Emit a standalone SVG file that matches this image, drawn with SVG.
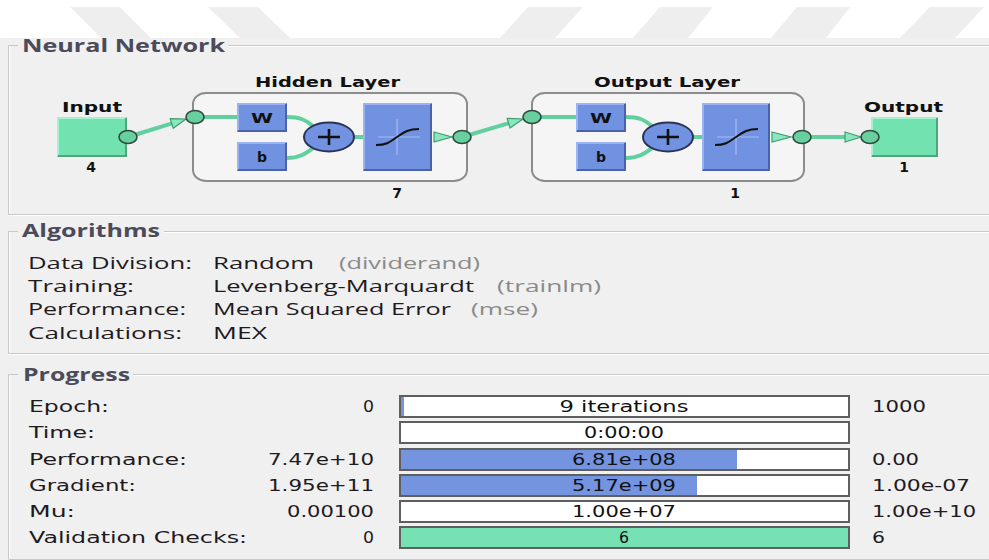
<svg xmlns="http://www.w3.org/2000/svg" width="989" height="560" viewBox="0 0 989 560">
<defs>
<style>
.gb{fill:none;stroke:#c6c9cc;stroke-width:1}
.gbw{fill:none;stroke:#ffffff;stroke-width:1}
.title{font-family:"Open Sans","Noto Sans",sans-serif;font-weight:700;font-size:17px;fill:#4b4b5a}
.row{font-family:"Open Sans","Noto Sans",sans-serif;font-size:17px;fill:#1e1a1e}
.dim{fill:#8a8a8a}
.prow{font-family:"DejaVu Sans",sans-serif;font-size:16px;fill:#1e1a1e}
.bartx{font-family:"DejaVu Sans",sans-serif;font-size:15px;fill:#111}
.nl{font-family:"DejaVu Sans",sans-serif;font-weight:700;font-size:14px;fill:#111}
.layer{fill:#f5f5f5;stroke:#8c8c8c;stroke-width:2}
.blue{fill:#7191e1}
.hi{fill:none;stroke:#9cb3f2;stroke-width:2}
.lo{fill:none;stroke:#4a63a8;stroke-width:2}
.green{fill:#73e2b1}
.ghi{fill:none;stroke:#a4f2cf;stroke-width:2}
.glo{fill:none;stroke:#4ea67e;stroke-width:2}
.wire{fill:none;stroke:#62cf9e;stroke-width:4}
.arr{fill:#8ae6bd;stroke:#3f9c74;stroke-width:1.2}
.dot{fill:#68cf9f;stroke:#2d4a3d;stroke-width:1.6}
.sum{fill:#7191e1;stroke:#2a3356;stroke-width:2}
.plus{stroke:#111;stroke-width:2.6;fill:none}
.cross{stroke:#a8bcf3;stroke-width:1.2;fill:none}
.sig{stroke:#111;stroke-width:2;fill:none}
.bar{fill:#ffffff;stroke:#5f5f5f;stroke-width:2}
</style>
</defs>
<rect x="0" y="0" width="989" height="560" fill="#ffffff"/>
<g fill="#eeeeee">
<polygon points="70,7 120,7 151,38 101,38"/>
<polygon points="208,7 258,7 290,38 240,38"/>
<polygon points="528,7 583,7 555,38 500,38"/>
<polygon points="660,7 713,7 688,38 633,38"/>
<polygon points="797,7 850,7 826,38 771,38"/>
<polygon points="930,7 984,7 955,38 900,38"/>
</g>
<rect x="0" y="38" width="989" height="522" fill="#f0f0f0"/>

<g id="groupboxes">
<path class="gb" d="M18,45.5 H8.5 V214.5 H989 M228,45.5 H989"/>
<path class="gbw" d="M9.5,46.5 V213.5 M228,46.5 H989 M8,215.5 H989"/>
<path class="gb" d="M18,231.5 H8.5 V353.5 H989 M164,231.5 H989"/>
<path class="gbw" d="M9.5,232.5 V352.5 M164,232.5 H989 M8,354.5 H989"/>
<path class="gb" d="M18,374.5 H8.5 V559.5 H989 M133,374.5 H989"/>
<path class="gbw" d="M9.5,375.5 V558.5 M133,375.5 H989"/>
<text class="title" x="22" y="52" textLength="203" lengthAdjust="spacingAndGlyphs">Neural Network</text>
<text class="title" x="22" y="237" textLength="138" lengthAdjust="spacingAndGlyphs">Algorithms</text>
<text class="title" x="23" y="381" textLength="107" lengthAdjust="spacingAndGlyphs">Progress</text>
</g>

<g id="input">
<text class="nl" x="62" y="112" textLength="60" lengthAdjust="spacingAndGlyphs">Input</text>
<rect class="green" x="57" y="117" width="70" height="40"/>
<path class="ghi" d="M58,156 V118 H126"/>
<path class="glo" d="M58,156 H126 V118"/>
<text class="nl" x="91" y="172" text-anchor="middle">4</text>
</g>

<g id="hidden-layer">
<text class="nl" x="255" y="87" textLength="145" lengthAdjust="spacingAndGlyphs">Hidden Layer</text>
<rect class="layer" x="193" y="93" width="274" height="88" rx="13" ry="11"/>
<text class="nl" x="397" y="198" text-anchor="middle">7</text>
</g>

<g id="output-layer">
<text class="nl" x="594" y="87" textLength="146" lengthAdjust="spacingAndGlyphs">Output Layer</text>
<rect class="layer" x="532" y="93" width="272" height="88" rx="13" ry="11"/>
<text class="nl" x="735" y="198" text-anchor="middle">1</text>
</g>

<g id="output">
<text class="nl" x="864" y="112" textLength="79" lengthAdjust="spacingAndGlyphs">Output</text>
<rect class="green" x="871" y="117" width="67" height="40"/>
<path class="ghi" d="M872,156 V118 H937"/>
<path class="glo" d="M872,156 H937 V118"/>
<text class="nl" x="904" y="172" text-anchor="middle">1</text>
</g>

<g id="connectors">
<line class="wire" x1="128" y1="137" x2="172" y2="123.4"/>
<polygon class="arr" points="173.2,128.2 186,119 170.2,118.6"/>
<line class="wire" x1="195" y1="117" x2="237" y2="117"/>
<path class="wire" d="M287,117 C300,117 306,120 313,126"/>
<path class="wire" d="M287,158 C300,158 306,153 313,148"/>
<line class="wire" x1="353" y1="137" x2="363" y2="137"/>
<polygon class="arr" points="434,132 452,137 434,142"/>
<line class="wire" x1="462" y1="137" x2="509" y2="123.2"/>
<polygon class="arr" points="510,128 523,119 507.2,118.4"/>
<line class="wire" x1="532" y1="117" x2="576" y2="117"/>
<path class="wire" d="M626,117 C639,117 645,120 652,126"/>
<path class="wire" d="M626,158 C639,158 645,153 652,148"/>
<line class="wire" x1="692" y1="137" x2="702" y2="137"/>
<polygon class="arr" points="772,132 791,137 772,142"/>
<line class="wire" x1="802" y1="137" x2="846" y2="137"/>
<polygon class="arr" points="845,132 861,137 845,142"/>
</g>

<g id="ports">
<ellipse class="dot" cx="128" cy="137" rx="9" ry="6.5"/>
<ellipse class="dot" cx="195" cy="117" rx="9" ry="6.5"/>
<ellipse class="dot" cx="462" cy="137" rx="9" ry="6.5"/>
<ellipse class="dot" cx="532" cy="117" rx="9" ry="6.5"/>
<ellipse class="dot" cx="802" cy="137" rx="9" ry="6.5"/>
<ellipse class="dot" cx="870" cy="137" rx="9" ry="6.5"/>
</g>

<g id="hidden-w">
<rect class="blue" x="237" y="103" width="50" height="29"/>
<path class="hi" d="M238,131 V104 H286"/><path class="lo" d="M238,131 H286 V104"/>
<text class="nl" x="262" y="123" text-anchor="middle" font-size="13" textLength="22" lengthAdjust="spacingAndGlyphs">W</text>
</g>
<g id="hidden-b">
<rect class="blue" x="237" y="142" width="50" height="29"/>
<path class="hi" d="M238,170 V143 H286"/><path class="lo" d="M238,170 H286 V143"/>
<text class="nl" x="262" y="162" text-anchor="middle" font-size="13">b</text>
</g>
<g id="hidden-sum">
<ellipse class="sum" cx="329" cy="137" rx="25" ry="14.5"/>
<path class="plus" d="M318,137 H340 M329,129 V145"/>
</g>
<g id="hidden-transfer">
<rect class="blue" x="363" y="103" width="69" height="68"/>
<path class="hi" d="M364,170 V104 H431"/><path class="lo" d="M364,170 H431 V104"/>
<path class="cross" d="M378,137 H420 M397,119 V155"/>
<path class="sig" d="M376,145 C388,145 391,141 397,137 C403,133 407,129 419,129"/>
</g>

<g id="output-w">
<rect class="blue" x="576" y="103" width="50" height="29"/>
<path class="hi" d="M577,131 V104 H625"/><path class="lo" d="M577,131 H625 V104"/>
<text class="nl" x="601" y="123" text-anchor="middle" font-size="13" textLength="22" lengthAdjust="spacingAndGlyphs">W</text>
</g>
<g id="output-b">
<rect class="blue" x="576" y="142" width="50" height="29"/>
<path class="hi" d="M577,170 V143 H625"/><path class="lo" d="M577,170 H625 V143"/>
<text class="nl" x="601" y="162" text-anchor="middle" font-size="13">b</text>
</g>
<g id="output-sum">
<ellipse class="sum" cx="668" cy="137" rx="25" ry="14.5"/>
<path class="plus" d="M657,137 H679 M668,129 V145"/>
</g>
<g id="output-transfer">
<rect class="blue" x="702" y="103" width="68" height="68"/>
<path class="hi" d="M703,170 V104 H769"/><path class="lo" d="M703,170 H769 V104"/>
<path class="cross" d="M717,137 H759 M736,119 V155"/>
<path class="sig" d="M715,145 C727,145 730,141 736,137 C742,133 746,129 758,129"/>
</g>

<g id="algorithms">
<text class="row" x="28" y="269" textLength="164" lengthAdjust="spacingAndGlyphs">Data Division:</text>
<text class="row" x="213" y="269" textLength="101" lengthAdjust="spacingAndGlyphs">Random</text>
<text class="row dim" x="339" y="269" textLength="141" lengthAdjust="spacingAndGlyphs">(dividerand)</text>
<text class="row" x="28" y="292" textLength="106" lengthAdjust="spacingAndGlyphs">Training:</text>
<text class="row" x="213" y="292" textLength="261" lengthAdjust="spacingAndGlyphs">Levenberg-Marquardt</text>
<text class="row dim" x="497" y="292" textLength="104" lengthAdjust="spacingAndGlyphs">(trainlm)</text>
<text class="row" x="28" y="315" textLength="158" lengthAdjust="spacingAndGlyphs">Performance:</text>
<text class="row" x="213" y="315" textLength="238" lengthAdjust="spacingAndGlyphs">Mean Squared Error</text>
<text class="row dim" x="471" y="315" textLength="67" lengthAdjust="spacingAndGlyphs">(mse)</text>
<text class="row" x="28" y="339" textLength="154" lengthAdjust="spacingAndGlyphs">Calculations:</text>
<text class="row" x="213" y="339" textLength="54" lengthAdjust="spacingAndGlyphs">MEX</text>
</g>

<g id="progress">
<text class="prow" x="29" y="412" textLength="80" lengthAdjust="spacingAndGlyphs">Epoch:</text>
<text class="prow" x="29" y="438" textLength="66" lengthAdjust="spacingAndGlyphs">Time:</text>
<text class="prow" x="29" y="465" textLength="158" lengthAdjust="spacingAndGlyphs">Performance:</text>
<text class="prow" x="29" y="491" textLength="107" lengthAdjust="spacingAndGlyphs">Gradient:</text>
<text class="prow" x="29" y="517" textLength="46" lengthAdjust="spacingAndGlyphs">Mu:</text>
<text class="prow" x="29" y="543" textLength="218" lengthAdjust="spacingAndGlyphs">Validation Checks:</text>

<text class="prow" x="374" y="412" text-anchor="end" textLength="11" lengthAdjust="spacingAndGlyphs">0</text>
<text class="prow" x="374" y="465" text-anchor="end" textLength="106" lengthAdjust="spacingAndGlyphs">7.47e+10</text>
<text class="prow" x="374" y="491" text-anchor="end" textLength="106" lengthAdjust="spacingAndGlyphs">1.95e+11</text>
<text class="prow" x="374" y="517" text-anchor="end" textLength="87" lengthAdjust="spacingAndGlyphs">0.00100</text>
<text class="prow" x="374" y="543" text-anchor="end" textLength="11" lengthAdjust="spacingAndGlyphs">0</text>

<rect class="bar" x="400" y="396" width="449" height="21"/>
<rect x="401" y="397" width="3" height="19" fill="#7494e0"/>
<rect class="bar" x="400" y="422" width="449" height="21"/>
<rect class="bar" x="400" y="449" width="449" height="21"/>
<rect x="401" y="450" width="336" height="19" fill="#7494e0"/>
<rect class="bar" x="400" y="475" width="449" height="21"/>
<rect x="401" y="476" width="296" height="19" fill="#7494e0"/>
<rect class="bar" x="400" y="501" width="449" height="21"/>
<rect class="bar" x="400" y="527" width="449" height="21"/>
<rect x="401" y="528" width="447" height="19" fill="#76e2b3"/>

<text class="bartx" x="624" y="412" text-anchor="middle" textLength="129" lengthAdjust="spacingAndGlyphs">9 iterations</text>
<text class="bartx" x="624" y="438" text-anchor="middle" textLength="80" lengthAdjust="spacingAndGlyphs">0:00:00</text>
<text class="bartx" x="624" y="465" text-anchor="middle" textLength="104" lengthAdjust="spacingAndGlyphs">6.81e+08</text>
<text class="bartx" x="624" y="491" text-anchor="middle" textLength="104" lengthAdjust="spacingAndGlyphs">5.17e+09</text>
<text class="bartx" x="624" y="517" text-anchor="middle" textLength="104" lengthAdjust="spacingAndGlyphs">1.00e+07</text>
<text class="bartx" x="624" y="543" text-anchor="middle" textLength="10" lengthAdjust="spacingAndGlyphs">6</text>

<text class="prow" x="872" y="412" textLength="54" lengthAdjust="spacingAndGlyphs">1000</text>
<text class="prow" x="872" y="465" textLength="47" lengthAdjust="spacingAndGlyphs">0.00</text>
<text class="prow" x="872" y="491" textLength="98" lengthAdjust="spacingAndGlyphs">1.00e-07</text>
<text class="prow" x="872" y="517" textLength="104" lengthAdjust="spacingAndGlyphs">1.00e+10</text>
<text class="prow" x="872" y="543" textLength="13" lengthAdjust="spacingAndGlyphs">6</text>
</g>
</svg>
